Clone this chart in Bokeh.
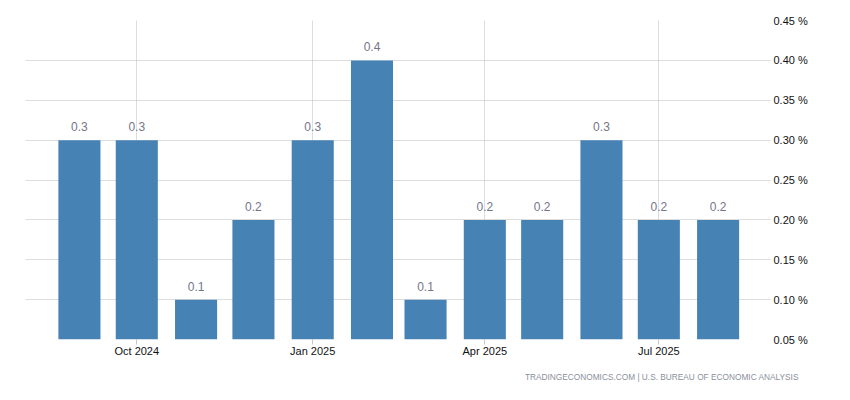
from datetime import datetime
from bokeh.plotting import figure
from bokeh.models import (ColumnDataSource, Range1d, FixedTicker, PrintfTickFormatter,
                          Title)
from bokeh.embed import file_html
from bokeh.resources import INLINE
from bokeh.core.properties import value

# ---- data ----
months = ["2024-09", "2024-10", "2024-11", "2024-12", "2025-01", "2025-02",
          "2025-03", "2025-04", "2025-05", "2025-06", "2025-07", "2025-08"]
values = [0.3, 0.3, 0.1, 0.2, 0.3, 0.4, 0.1, 0.2, 0.2, 0.3, 0.2, 0.2]
value_labels = ["0.3", "0.3", "0.1", "0.2", "0.3", "0.4", "0.1", "0.2", "0.2", "0.3", "0.2", "0.2"]
tick_months = ["2024-10", "2025-01", "2025-04", "2025-07"]
tick_labels = ["Oct 2024", "Jan 2025", "Apr 2025", "Jul 2025"]
y_ticks = [0.05, 0.10, 0.15, 0.20, 0.25, 0.30, 0.35, 0.40, 0.45]
source_text = "TRADINGECONOMICS.COM  |  U.S. BUREAU OF ECONOMIC ANALYSIS"

def to_dt(m):
    return datetime.strptime(m + "-01", "%Y-%m-%d")

def to_ms(m):
    return to_dt(m).timestamp() * 1000.0

DAY = 86400000.0
dates = [to_dt(m) for m in months]
src = ColumnDataSource(dict(x=dates, top=values, lab=value_labels))

x_start = to_ms("2024-09") - 28.2 * DAY
x_end = to_ms("2024-09") + 361.4 * DAY

p = figure(width=842, height=392, x_axis_type="datetime",
           output_backend="svg", toolbar_location=None,
           x_range=Range1d(x_start, x_end), y_range=Range1d(0.05, 0.45),
           y_axis_location="right",
           min_border_left=25, min_border_top=20, min_border_right=72,
           min_border_bottom=52)
p.outline_line_color = None
p.background_fill_color = "white"
p.border_fill_color = "white"

p.vbar(x="x", top="top", bottom=0, width=22 * DAY, source=src,
       fill_color="#4682B4", line_color=None)

p.text(x="x", y="top", text="lab", source=src, y_offset=-9,
       text_align="center", text_baseline="bottom",
       text_font=value("Liberation Sans"), text_font_size="12px",
       text_color="#75758a")

# x axis
xa = p.xaxis[0]
xa.ticker = FixedTicker(ticks=[to_ms(m) for m in tick_months])
xa.major_label_overrides = {to_ms(m): l for m, l in zip(tick_months, tick_labels)}
xa.axis_line_color = None
xa.major_tick_line_color = "#c8c8c8"
xa.major_tick_in = 0
xa.major_tick_out = 5
xa.minor_tick_line_color = None
xa.major_label_standoff = 0
xa.major_label_text_font = "Liberation Sans"
xa.major_label_text_font_size = "11px"
xa.major_label_text_color = "#111111"

# y axis
ya = p.yaxis[0]
ya.ticker = FixedTicker(ticks=y_ticks)
ya.formatter = PrintfTickFormatter(format="%.2f %%")
ya.axis_line_color = None
ya.major_tick_line_color = None
ya.minor_tick_line_color = None
ya.major_tick_in = 0
ya.major_tick_out = 0
ya.major_label_standoff = 3
ya.major_label_text_font = "Liberation Sans"
ya.major_label_text_font_size = "11px"
ya.major_label_text_color = "#111111"

for g in (p.xgrid[0], p.ygrid[0]):
    g.grid_line_color = "#bbbbbb"
    g.grid_line_dash = "1 1"
    g.grid_line_width = 1
p.xgrid[0].ticker = xa.ticker
p.ygrid[0].ticker = ya.ticker

t = Title(text=source_text, align="right", text_font="Liberation Sans",
          text_font_size="8.3px", text_color="#8a8f9c", text_font_style="normal",
          text_line_height=1.0, offset=-33, standoff=21)
p.add_layout(t, "below")

open("out.html", "w").write(file_html(p, INLINE))
